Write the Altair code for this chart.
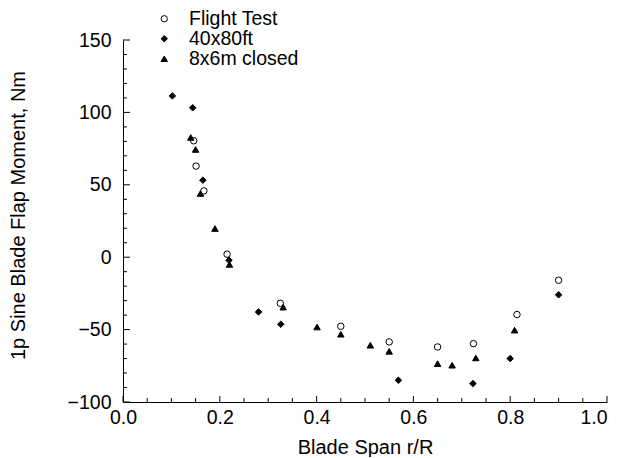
import altair as alt
import pandas as pd

# ---- data ----
series = ["Flight Test", "40x80ft", "8x6m closed"]

ft_x = [0.146, 0.151, 0.167, 0.215, 0.325, 0.450, 0.550, 0.650, 0.724, 0.814, 0.900]
ft_y = [80.4, 62.9, 45.8, 2.1, -31.8, -47.7, -58.5, -62.0, -59.7, -39.6, -15.9]

w40_x = [0.102, 0.144, 0.165, 0.219, 0.280, 0.326, 0.569, 0.723, 0.800, 0.900]
w40_y = [111.4, 103.2, 53.2, -2.1, -37.8, -46.3, -85.0, -87.3, -70.0, -26.0]

t86_x = [0.140, 0.150, 0.160, 0.190, 0.220, 0.331, 0.401, 0.450, 0.511, 0.550, 0.650, 0.680, 0.729, 0.809]
t86_y = [82.7, 74.4, 44.0, 19.8, -5.0, -34.5, -48.2, -53.2, -60.8, -65.0, -73.5, -74.6, -69.6, -50.4]

x_major = [0.0, 0.2, 0.4, 0.6, 0.8, 1.0]
x_minor = [0.05, 0.1, 0.15, 0.25, 0.3, 0.35, 0.45, 0.5, 0.55, 0.65, 0.7, 0.75, 0.85, 0.9, 0.95]
y_major = [-100, -50, 0, 50, 100, 150]
y_minor = [-90, -80, -70, -60, -40, -30, -20, -10, 10, 20, 30, 40, 60, 70, 80, 90, 110, 120, 130, 140]

rows = []
for name, xs_, ys_ in [(series[0], ft_x, ft_y), (series[1], w40_x, w40_y), (series[2], t86_x, t86_y)]:
    for a, b in zip(xs_, ys_):
        rows.append({"r": a, "m": b, "src": name})
df = pd.DataFrame(rows)

W, H = 484, 362
FONT = "Liberation Sans"

xs = alt.Scale(domain=[0, 1], nice=False, zero=False)
ys = alt.Scale(domain=[-100, 150], nice=False, zero=False)

x_axis = alt.Axis(
    orient="bottom", title="Blade Span r/R", values=x_major, format=".1f",
    ticks=False, tickSize=0, domain=True, domainColor="black", grid=False,
    labelFlush=False,
    labelAlign={"condition": {"test": "datum.value == 1", "value": "right"}, "value": "center"},
    labelFontSize=19.5, labelColor="black", labelPadding=6.5,
    titleFontSize=20, titleFontWeight="normal", titleColor="black",
    titleY=51, titleBaseline="alphabetic")
y_axis = alt.Axis(
    orient="left", title="1p Sine Blade Flap Moment, Nm", values=y_major,
    ticks=False, tickSize=0, domain=True, domainColor="black", grid=False,
    labelFlush=False,
    labelFontSize=19.5, labelColor="black", labelPadding=12,
    titleFontSize=20, titleFontWeight="normal", titleColor="black",
    titleX=-99, titleY=175, titleAngle=270, titleAlign="center",
    titleBaseline="alphabetic")

leg = alt.Legend(title=None, orient="none", legendX=31.5, legendY=-31)

points = alt.Chart(df).mark_point(
    filled=True, size=42, strokeWidth=1, opacity=1
).encode(
    x=alt.X("r:Q", scale=xs, axis=x_axis),
    y=alt.Y("m:Q", scale=ys, axis=y_axis),
    shape=alt.Shape("src:N", scale=alt.Scale(domain=series, range=["circle", "diamond", "triangle-up"]), legend=leg),
    fill=alt.Fill("src:N", scale=alt.Scale(domain=series, range=["transparent", "black", "black"]), legend=leg),
    stroke=alt.Stroke("src:N", scale=alt.Scale(domain=series, range=["black", "black", "black"]), legend=leg),
)

def xticks(vals, length):
    return alt.Chart(pd.DataFrame({"v": vals})).mark_rule(color="black", strokeWidth=1).encode(
        x=alt.X("v:Q", scale=xs, axis=x_axis),
        y=alt.value(H), y2=alt.value(H - length),
    )

def yticks(vals, length):
    return alt.Chart(pd.DataFrame({"v": vals})).mark_rule(color="black", strokeWidth=1).encode(
        y=alt.Y("v:Q", scale=ys, axis=y_axis),
        x=alt.value(0), x2=alt.value(length),
    )

chart = alt.layer(
    xticks(x_major, 6), xticks(x_minor, 4), yticks(y_major, 7), yticks(y_minor, 4), points
).properties(
    width=W, height=H,
    autosize=alt.AutoSizeParams(type="none"),
    padding={"left": 115, "top": 32, "right": 4, "bottom": 55},
).configure(font=FONT).configure_view(stroke=None).configure_legend(
    labelFontSize=19.5, labelColor="black", labelFont=FONT,
    symbolStrokeColor="black", symbolStrokeWidth=1, symbolSize=40, symbolOpacity=1,
    labelOffset=15, rowPadding=-2, padding=0,
)

chart.save("out.html", embed_options={"renderer": "svg", "actions": False})
